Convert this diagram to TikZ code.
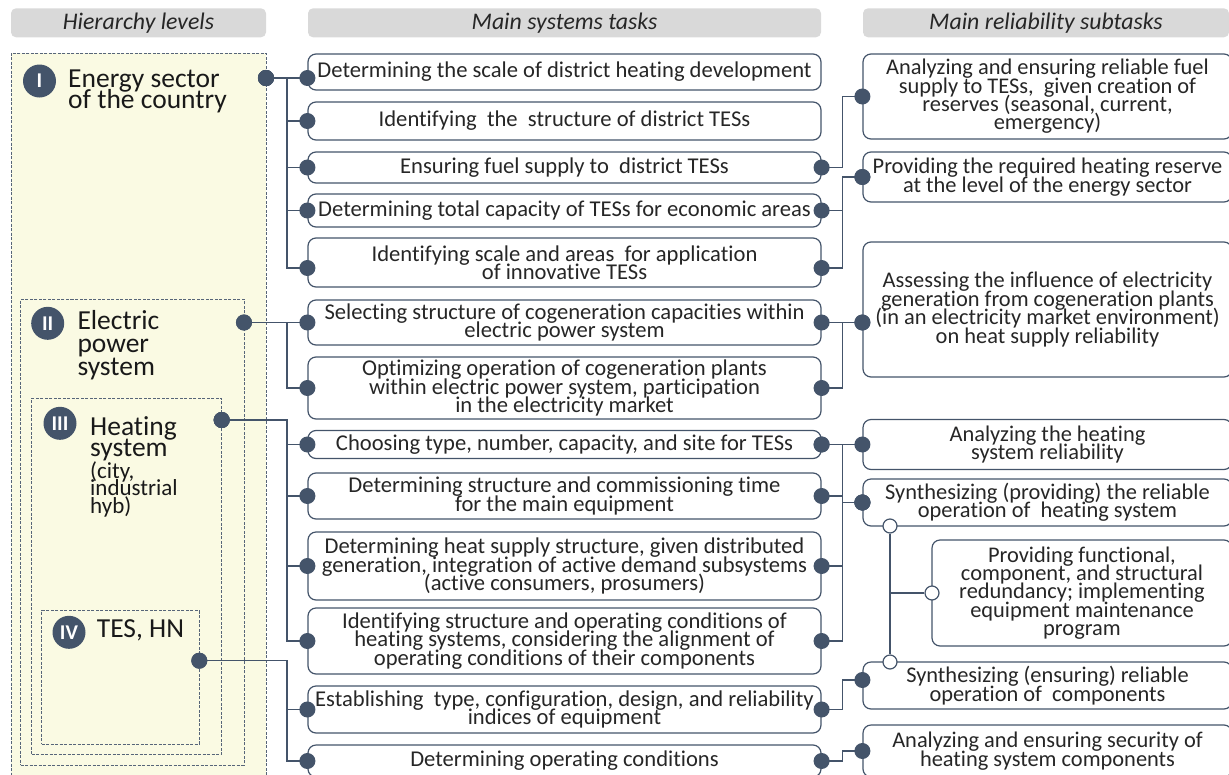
\documentclass[tikz,border=0pt]{standalone}
\usepackage{fontspec}
\setmainfont{Carlito}[Ligatures=NoCommon]
\usetikzlibrary{arrows.meta}

\definecolor{slate}{HTML}{44546A}
\definecolor{lemon}{HTML}{FAFAE3}
\definecolor{headgray}{HTML}{D9D9D9}

\begin{document}
\begin{tikzpicture}[x=1pt, y=-1pt,
    header/.style = {fill=headgray, rounded corners=5pt, minimum height=29pt, inner sep=0pt,
      text=black!85, font=\fontsize{23.8}{23.8}\selectfont\itshape},
    tier/.style = {draw=slate!90, fill=lemon, dash pattern=on 3pt off 1.5pt, line width=0.8pt, inner sep=0pt},
    badge/.style = {circle, fill=slate, text=white, minimum size=33pt, inner sep=0pt,
      font=\fontsize{21}{21}\selectfont\bfseries},
    tiername/.style = {anchor=base west, align=left, inner sep=0pt, text=black!90,
      font={\fontsize{27.5}{#1}\selectfont\lineskiplimit=-30pt}},
    task/.style = {draw=slate, line width=1.2pt, rounded corners=8pt, minimum width=513pt,
      align=center, inner sep=0pt, text=black!85, font={\fontsize{22.6}{18.5}\selectfont\lineskiplimit=-30pt}},
    subtask/.style = {task, minimum width=369pt, font={\fontsize{22.4}{18.4}\selectfont\lineskiplimit=-30pt}},
    wire/.style = {draw=slate, line width=1.3pt, arrows = {Circle[length=16pt]-Circle[length=16pt]},
      shorten <=-8pt, shorten >=-8pt},
    link/.style = {draw=slate, line width=1.3pt},
    ring/.style = {circle, draw=slate, fill=white, line width=1.2pt, minimum size=14pt, inner sep=0pt},
  ]
  \useasboundingbox (0,0) rectangle (1229,774);

  \node[header, minimum width=255pt] (hLevels) at (138.5,22.8) {Hierarchy levels};
  \node[header, minimum width=513pt] (hTasks) at (564.5,22.8) {Main systems tasks};
  \node[header, minimum width=366pt] (hSub) at (1046,22.8) {Main reliability subtasks};

  \node[tier, minimum width=255pt, minimum height=737pt] (lvI) at (138.5,421.5) {};
  \node[tier, minimum width=223.3pt, minimum height=465.7pt] (lvII) at (132.35,532.15) {};
  \node[tier, minimum width=190pt, minimum height=356pt] (lvIII) at (126.7,576.3) {};
  \node[tier, minimum width=157.6pt, minimum height=133.3pt] (lvIV) at (120.5,677.35) {};

  \node[badge] (nI) at (39.5,81) {I};
  \node[tiername=21] (tI) at (68,108.5) {Energy sector\\of the country};
  \node[badge] (nII) at (47.7,323.3) {II};
  \node[tiername=23] (tII) at (77.3,375) {Electric\\power\\system};
  \node[badge] (nIII) at (60,423.3) {III};
  \node[tiername=21.7] (tIII) at (90,456.7) {Heating\\system};
  \node[tiername=17.5, font={\fontsize{23}{17.5}\selectfont\lineskiplimit=-30pt}] (tIIIx) at (90,513) {(city,\\industrial\\hyb)};
  \node[badge] (nIV) at (69,632.3) {IV};
  \node[tiername=22] (tIV) at (96.7,637) {TES, HN};

  \coordinate (pI) at (266,78);
  \coordinate (pII) at (244,322.5);
  \coordinate (pIII) at (221.7,420);
  \coordinate (pIV) at (199.3,660.7);

  \node[task, minimum height=36pt] (b1) at (564.5,72) {Determining the scale of district heating development};
  \node[task, minimum height=38pt] (b2) at (564.5,121) {Identifying~ the~ structure of district TESs};
  \node[task, minimum height=31pt] (b3) at (564.5,167.5) {Ensuring fuel supply to~ district TESs};
  \node[task, minimum height=33pt] (b4) at (564.5,210.5) {Determining total capacity of TESs for economic areas};
  \node[task, minimum height=49pt] (b5) at (564.5,262.5) {Identifying scale and areas~ for application\\of innovative TESs};
  \node[task, minimum height=45pt] (b6) at (564.5,322.5) {Selecting structure of cogeneration capacities within\\electric power system};
  \node[task, minimum height=62pt] (b7) at (564.5,388) {Optimizing operation of cogeneration plants\\within electric power system, participation\\in the electricity market};
  \node[task, minimum height=28pt] (b8) at (564.5,444.5) {Choosing type, number, capacity, and site for TESs};
  \node[task, minimum height=46pt] (b9) at (564.5,496) {Determining structure and commissioning time\\for the main equipment};
  \node[task, minimum height=68pt] (b10) at (564.5,566) {Determining heat supply structure, given distributed\\generation, integration of active demand subsystems\\(active consumers, prosumers)};
  \node[task, minimum height=66pt] (b11) at (564.5,641) {Identifying structure and operating conditions of\\heating systems, considering the alignment of\\operating conditions of their components};
  \node[task, minimum height=47pt] (b12) at (564.5,709.5) {Establishing~ type, configuration, design, and reliability\\indices of equipment};
  \node[task, minimum height=32pt] (b13) at (564.5,761) {Determining operating conditions};

  \node[subtask, minimum height=85pt] (sA) at (1047.5,96.5) {Analyzing and ensuring reliable fuel\\supply to TESs,~ given creation of\\reserves (seasonal, current,\\emergency)};
  \node[subtask, minimum height=50pt] (sB) at (1047.5,177) {Providing the required heating reserve\\at the level of the energy sector};
  \node[subtask, minimum height=135pt] (sC) at (1047.5,309.5) {Assessing the influence of electricity\\generation from cogeneration plants\\(in an electricity market environment)\\on heat supply reliability};
  \node[subtask, minimum height=50pt] (sD) at (1047.5,444.5) {Analyzing the heating\\system reliability};
  \node[subtask, minimum height=47pt] (sE) at (1047.5,502.5) {Synthesizing (providing) the reliable\\operation of~ heating system};
  \node[subtask, minimum width=300pt, minimum height=106pt] (sF) at (1082,593) {Providing functional,\\component, and structural\\redundancy; implementing\\equipment maintenance\\program};
  \node[subtask, minimum height=47pt] (sG) at (1047.5,685.5) {Synthesizing (ensuring) reliable\\operation of~ components};
  \node[subtask, minimum height=52pt] (sH) at (1047.5,751) {Analyzing and ensuring security of\\heating system components};

  \coordinate (b1in) at ([yshift=-6pt]b1.west);
  \coordinate (b5in) at ([yshift=-5.5pt]b5.west);
  \coordinate (b5out) at ([yshift=-5.5pt]b5.east);
  \coordinate (sCin) at ([yshift=-13pt]sC.west);
  \coordinate (sGin) at ([yshift=5.5pt]sG.west);

  \draw[wire] (pI) -- (b1in);
  \draw[wire] (pI) -- ++(21,0) |- (b2.west);
  \draw[wire] (pI) -- ++(21,0) |- (b3.west);
  \draw[wire] (pI) -- ++(21,0) |- (b4.west);
  \draw[wire] (pI) -- ++(21,0) |- (b5in);

  \draw[wire] (pII) -- (b6.west);
  \draw[wire] (pII) -- ++(43,0) |- (b7.west);

  \draw[wire] (pIII) -- ++(65.3,0) |- (b8.west);
  \draw[wire] (pIII) -- ++(65.3,0) |- (b9.west);
  \draw[wire] (pIII) -- ++(65.3,0) |- (b10.west);
  \draw[wire] (pIII) -- ++(65.3,0) |- (b11.west);

  \draw[wire] (pIV) -- ++(87.7,0) |- (b12.west);
  \draw[wire] (pIV) -- ++(87.7,0) |- (b13.west);

  \draw[wire] (b3.east) -- ++(21,0) |- (sA.west);
  \draw[wire] (b4.east) -- ++(21,0) |- (sB.west);
  \draw[wire] (b5out) -- ++(21,0) |- (sB.west);
  \draw[wire] (b6.east) -- (sCin);
  \draw[wire] (b7.east) -- ++(21,0) |- (sCin);
  \draw[wire] (b8.east) -- (sD.west);
  \draw[wire] (b8.east) -- ++(21,0) |- (sE.west);
  \draw[wire] (b9.east) -- ++(21,0) |- (sE.west);
  \draw[wire] (b10.east) -- ++(21,0) |- (sE.west);
  \draw[wire] (b11.east) -- ++(21,0) |- (sE.west);
  \draw[wire] (b12.east) -- ++(21,0) |- (sGin);
  \draw[wire] (b13.east) -- ++(21,0) |- (sH.west);

  \node[ring] (o1) at (890,526) {};
  \node[ring] (o2) at (932,593) {};
  \node[ring] (o3) at (890,662) {};
  \draw[link] (o1) -- (o3);
  \draw[link] (o2) -- (o2 -| o1);
\end{tikzpicture}
\end{document}
